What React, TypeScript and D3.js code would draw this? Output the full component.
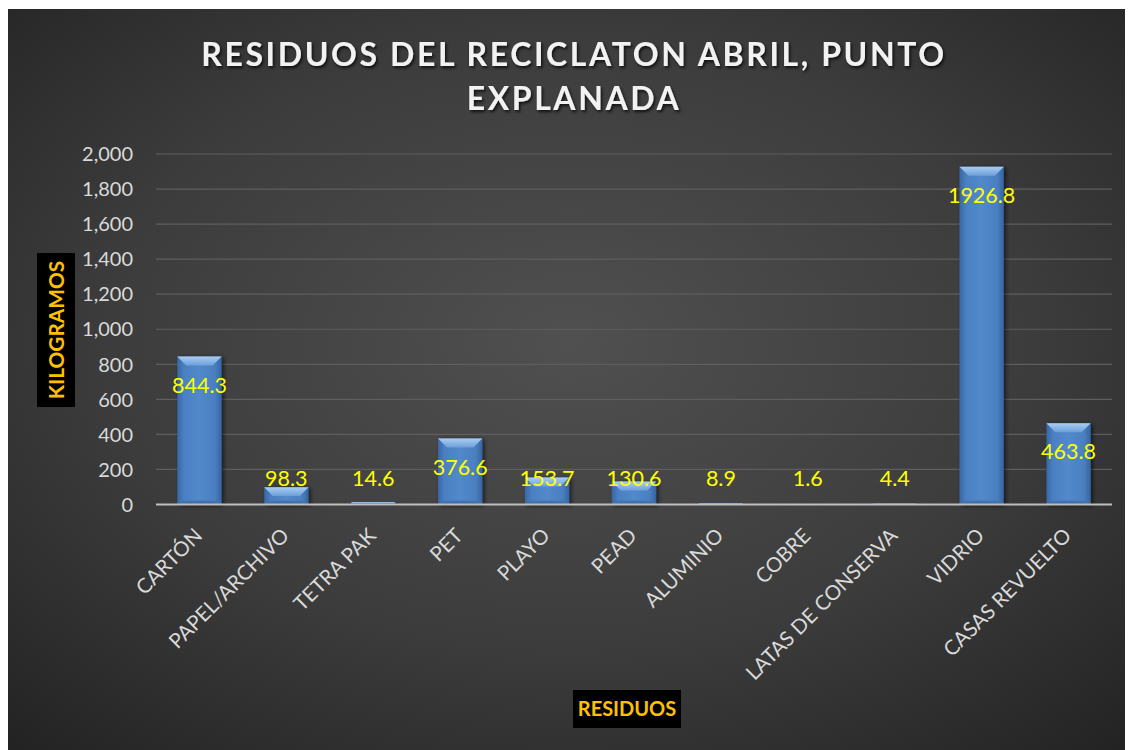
import React from "react";
import * as d3 from "d3";

const categories = ["CARTÓN", "PAPEL/ARCHIVO", "TETRA PAK", "PET", "PLAYO", "PEAD", "ALUMINIO", "COBRE", "LATAS DE CONSERVA", "VIDRIO", "CASAS REVUELTO"];
const values = [844.3, 98.3, 14.6, 376.6, 153.7, 130.6, 8.9, 1.6, 4.4, 1926.8, 463.8];
const yTicks = [0, 200, 400, 600, 800, 1000, 1200, 1400, 1600, 1800, 2000];
const titleLines = ["RESIDUOS DEL RECICLATON ABRIL, PUNTO", "EXPLANADA"];
const yTitle = "KILOGRAMOS";
const xTitle = "RESIDUOS";

const W = 1133, H = 750;
const left = 156, right = 1112, top = 154, bottom = 504.5;

export default function App() {
  const x = d3.scaleBand<string>().domain(categories).range([left, right]).paddingInner(0.49).paddingOuter(0.245);
  const y = d3.scaleLinear().domain([0, 2000]).range([bottom, top]);
  const fmt = d3.format(",");
  const bw = x.bandwidth();
  const font = "Lato, 'Open Sans', sans-serif";
  return (
    <svg width={W - 8} height={H - 8} style={{ display: "block" }}>
      <defs>
        <radialGradient id="bg" cx="0.5" cy="0.45" r="0.75" gradientUnits="objectBoundingBox">
          <stop offset="0" stopColor="#505050" />
          <stop offset="0.55" stopColor="#3c3c3c" />
          <stop offset="1" stopColor="#222222" />
        </radialGradient>
        <linearGradient id="barH" x1="0" x2="1" y1="0" y2="0">
          <stop offset="0" stopColor="#3867a6" />
          <stop offset="0.15" stopColor="#4b80c2" />
          <stop offset="0.5" stopColor="#5289ca" />
          <stop offset="0.85" stopColor="#4a7fc0" />
          <stop offset="1" stopColor="#36649f" />
        </linearGradient>
        <linearGradient id="bevelTop" x1="0" x2="0" y1="0" y2="1">
          <stop offset="0" stopColor="#a9cdf2" />
          <stop offset="1" stopColor="#6e9fda" />
        </linearGradient>
        <linearGradient id="bevelBot" x1="0" x2="0" y1="0" y2="1">
          <stop offset="0" stopColor="#4477b8" />
          <stop offset="1" stopColor="#3a68a4" />
        </linearGradient>
        <filter id="barShadow" x="-30%" y="-10%" width="160%" height="130%">
          <feDropShadow dx="2" dy="1" stdDeviation="2" floodColor="#000" floodOpacity="0.6" />
        </filter>
        <filter id="txtShadow" x="-10%" y="-30%" width="120%" height="160%">
          <feDropShadow dx="1.5" dy="2" stdDeviation="1.5" floodColor="#000" floodOpacity="0.75" />
        </filter>
      </defs>
      <g transform="translate(-8,-8)">
        <rect x={8} y={9} width={W - 8} height={H - 9} fill="url(#bg)" />
        {/* title */}
        {titleLines.map((t, i) => (
          <text key={t} x={574} y={66 + i * 44} textAnchor="middle" fill="#f2f2f2" fontFamily={font} fontWeight={700} fontSize={32} letterSpacing={2.6} filter="url(#txtShadow)">{t}</text>
        ))}
        {/* gridlines */}
        {yTicks.filter((t) => t > 0).map((t) => (
          <line key={t} x1={left} x2={right} y1={y(t)} y2={y(t)} stroke="#5e5e5e" strokeWidth={1.2} />
        ))}
        {/* y tick labels */}
        {yTicks.map((t) => (
          <text key={t} x={133} y={y(t)} dy="0.36em" textAnchor="end" fill="#d9d9d9" fontFamily={font} fontSize={20}>{fmt(t)}</text>
        ))}
        {/* bars */}
        {categories.map((c, i) => {
          const v = values[i];
          const x0 = x(c)!;
          const yt = y(v);
          const h = bottom - yt;
          const bv = Math.min(9, h / 2);
          const bb = Math.min(4, h / 2);
          return (
            <g key={c} filter="url(#barShadow)">
              <rect x={x0} y={yt} width={bw} height={h} fill="url(#barH)" />
              <polygon points={`${x0},${yt} ${x0 + bw},${yt} ${x0 + bw - bv},${yt + bv} ${x0 + bv},${yt + bv}`} fill="url(#bevelTop)" />
              <polygon points={`${x0},${bottom} ${x0 + bb},${bottom - bb} ${x0 + bw - bb},${bottom - bb} ${x0 + bw},${bottom}`} fill="url(#bevelBot)" />
            </g>
          );
        })}
        {/* axis line */}
        <line x1={left} x2={right} y1={bottom} y2={bottom} stroke="#bfbfbf" strokeWidth={2} />
        {/* data labels */}
        {categories.map((c, i) => {
          const v = values[i];
          const base = Math.min(y(v) + 36, 486);
          return (
            <text key={c} x={x(c)! + bw / 2} y={base} textAnchor="middle" fill="#ffff00" fontFamily={font} fontSize={21.5}>{v.toFixed(1)}</text>
          );
        })}
        {/* category labels */}
        {categories.map((c) => {
          const cx = x(c)! + bw / 2 + 4;
          const cy = 537;
          return (
            <text key={c} transform={`translate(${cx},${cy}) rotate(-45)`} textAnchor="end" fill="#d9d9d9" fontFamily={font} fontSize={20.5}>{c}</text>
          );
        })}
        {/* y title */}
        <rect x={37} y={253} width={38} height={154} fill="#000" />
        <text transform={`translate(${63.5},${330}) rotate(-90)`} textAnchor="middle" fill="#ffc000" fontFamily={font} fontWeight={700} fontSize={20.8}>{yTitle}</text>
        {/* x title */}
        <rect x={573} y={690} width={108} height={38} fill="#000" />
        <text x={627} y={716} textAnchor="middle" fill="#ffc000" fontFamily={font} fontWeight={700} fontSize={20}>{xTitle}</text>
      </g>
    </svg>
  );
}
